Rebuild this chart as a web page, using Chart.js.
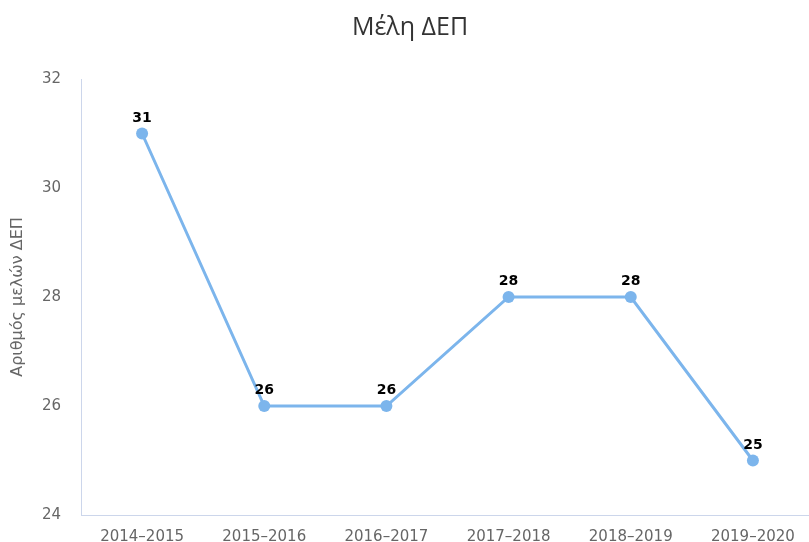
<!DOCTYPE html>
<html>
<head>
<meta charset="utf-8">
<script src="https://cdn.jsdelivr.net/npm/chart.js@4/dist/chart.umd.min.js"></script>
<style>
  html, body { margin: 0; padding: 0; background: #fff; overflow: hidden; }
  #wrap { width: 820px; height: 542px; }
</style>
</head>
<body>
<div id="wrap"><canvas id="chart" width="820" height="542"></canvas></div>
<script>
// data
const years = ["2014\u20132015", "2015\u20132016", "2016\u20132017", "2017\u20132018", "2018\u20132019", "2019\u20132020"];
const members = [31, 26, 26, 28, 28, 25];
const yTicks = [24, 26, 28, 30, 32];

// small plugin to write the value above each point
const valueLabels = {
    id: "valueLabels",
    afterDatasetsDraw(chart) {
        const ctx = chart.ctx;
        const meta = chart.getDatasetMeta(0);
        ctx.save();
        ctx.font = "bold 14px 'DejaVu Sans'";
        ctx.fillStyle = "#000";
        ctx.textAlign = "center";
        ctx.textBaseline = "alphabetic";
        meta.data.forEach((pt, i) => {
            ctx.fillText(members[i], pt.x, pt.y - 12);
        });
        ctx.restore();
    }
};

document.addEventListener("DOMContentLoaded", function () {
    let ctx = document.getElementById("chart").getContext("2d");

    new Chart(ctx, {
        type: "line",
        data: {
            labels: years,
            datasets: [{
                label: "Μέλη ΔΕΠ",
                data: members,
                borderColor: "#7cb5ec",
                backgroundColor: "#7cb5ec",
                borderWidth: 3,
                pointRadius: 6,
                pointHoverRadius: 6,
                pointBorderWidth: 0,
                tension: 0
            }]
        },
        options: {
            responsive: false,
            animation: false,
            layout: { padding: 0 },
            plugins: {
                legend: { display: false },
                tooltip: { enabled: false },
                title: {
                    display: true,
                    text: "Μέλη ΔΕΠ",
                    color: "#333",
                    font: { family: "'Open Sans'", size: 25, weight: "normal", lineHeight: 1.2 },
                    padding: { top: 13, bottom: 36 }
                }
            },
            scales: {
                x: {
                    offset: true,
                    grid: { display: false },
                    border: { display: true, color: "#ccd6eb", width: 1 },
                    ticks: {
                        color: "#666",
                        font: { family: "'DejaVu Sans'", size: 15 },
                        padding: 5,
                        maxRotation: 0,
                        autoSkip: false
                    },
                    afterFit: s => { s.height = 27; }
                },
                y: {
                    min: 24,
                    max: 32,
                    grid: { display: false },
                    border: { display: true, color: "#ccd6eb", width: 1 },
                    afterBuildTicks: s => { s.ticks = yTicks.map(v => ({ value: v })); },
                    ticks: {
                        color: "#666",
                        font: { family: "'DejaVu Sans'", size: 15 },
                        padding: 12
                    },
                    title: {
                        display: true,
                        text: "Αριθμός μελών ΔΕΠ",
                        color: "#666",
                        font: { family: "'DejaVu Sans'", size: 16 },
                        padding: { top: 8, bottom: 0 }
                    },
                    afterFit: s => { s.width = 81; }
                }
            }
        },
        plugins: [valueLabels]
    });
});
</script>
</body>
</html>
